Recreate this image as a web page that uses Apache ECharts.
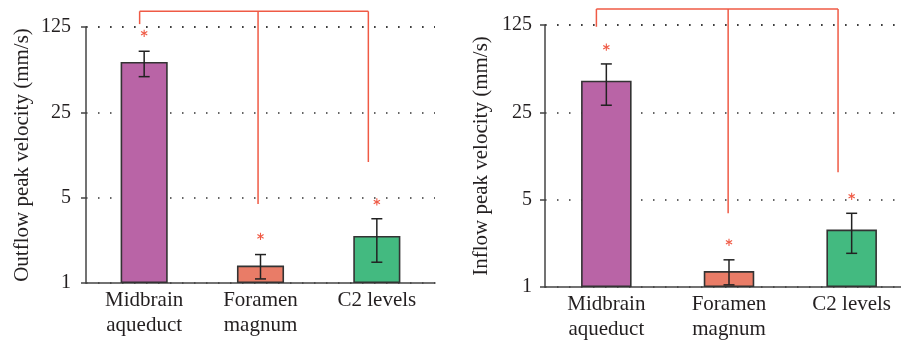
<!DOCTYPE html>
<html><head><meta charset="utf-8">
<script src="https://cdn.jsdelivr.net/npm/echarts@6/dist/echarts.min.js"></script>
<style>html,body{margin:0;padding:0;background:#fff}#c{width:901px;height:348px}</style>
</head><body><div id="c"></div>
<script>
const categories = ['Midbrain\naqueduct', 'Foramen\nmagnum', 'C2 levels'];
const yTicks = [1, 5, 25, 125];
const barColors = ['#b964a6', '#e97c67', '#43ba80'];

// Outflow panel (left)
const outflowMean = [64.6, 1.39, 2.43];
const outflowLow = [49.0, 1.08, 1.48];
const outflowHigh = [79.1, 1.71, 3.36];
const outflowStar = [111, 2.41, 4.61];
const outflowBracketTop = 168;
const outflowBracketEnd = [132, 4.44, 9.8];
const outflowBracketShift = [-0.039, -0.021, -0.073];

// Inflow panel (right)
const inflowMean = [44.8, 1.34, 2.88];
const inflowLow = [28.5, 1.04, 1.86];
const inflowHigh = [61.0, 1.65, 3.89];
const inflowStar = [83, 2.28, 5.32];
const inflowBracketTop = 168;
const inflowBracketEnd = [121, 3.89, 8.28];
const inflowBracketShift = [-0.081, -0.007, -0.111];

const FONT = '"Liberation Serif", "DejaVu Serif", serif';
const TXT = '#231f20';
const AX = '#444';
const RED = '#ef5a45';

function xAxis(gi) {
  return {
    type: 'category', gridIndex: gi, data: categories,
    axisTick: { show: false },
    axisLine: { show: true, lineStyle: { color: AX, width: 1.5 } },
    axisLabel: { interval: 0, fontFamily: FONT, fontSize: 21, color: TXT, lineHeight: 25, margin: 5 },
    splitLine: { show: false }
  };
}
function yAxis(gi, name, labelMargin) {
  return {
    type: 'log', logBase: 5, gridIndex: gi, min: yTicks[0], max: yTicks[yTicks.length - 1],
    axisLine: { show: true, lineStyle: { color: AX, width: 1.5 } },
    axisTick: { show: true, length: 5, lineStyle: { color: AX, width: 1.5 } },
    axisLabel: { fontFamily: FONT, fontSize: 20, color: TXT, margin: labelMargin,
      formatter: v => String(Math.round(v)) },
    splitLine: { show: true, lineStyle: { type: [1.5, 10.5], color: '#333', width: 1.5 } },
    name: name, nameLocation: 'middle', nameGap: 53,
    nameTextStyle: { fontFamily: FONT, fontSize: 21, color: TXT }
  };
}
function barSeries(gi, vals, w) {
  return {
    type: 'bar', xAxisIndex: gi, yAxisIndex: gi, barWidth: w, z: 2,
    data: vals.map((v, i) => ({ value: v, itemStyle: { color: barColors[i] } })),
    itemStyle: { borderColor: '#333', borderWidth: 1.6 }
  };
}
function errorSeries(gi, low, high) {
  return {
    type: 'custom', xAxisIndex: gi, yAxisIndex: gi, z: 5, silent: true,
    data: low.map((l, i) => [i, l, high[i]]),
    encode: { x: 0, y: [1, 2] },
    renderItem: (params, api) => {
      const x = api.value(0);
      const lo = api.coord([x, api.value(1)]);
      const hi = api.coord([x, api.value(2)]);
      const hw = 5.5;
      const st = { stroke: '#222', lineWidth: 1.5 };
      return { type: 'group', children: [
        { type: 'line', shape: { x1: lo[0], y1: lo[1], x2: hi[0], y2: hi[1] }, style: st },
        { type: 'line', shape: { x1: lo[0] - hw, y1: lo[1], x2: lo[0] + hw, y2: lo[1] }, style: st },
        { type: 'line', shape: { x1: hi[0] - hw, y1: hi[1], x2: hi[0] + hw, y2: hi[1] }, style: st }
      ] };
    }
  };
}
function starSeries(gi, stars) {
  return {
    type: 'custom', xAxisIndex: gi, yAxisIndex: gi, z: 6, silent: true,
    data: stars.map((v, i) => [i, v]),
    encode: { x: 0, y: 1 },
    renderItem: (params, api) => {
      const p = api.coord([api.value(0), api.value(1)]);
      const r = 3.6;
      const st = { stroke: RED, lineWidth: 1.1 };
      const ch = [];
      for (let k = 0; k < 3; k++) {
        const a = Math.PI / 2 + k * Math.PI / 3;
        ch.push({ type: 'line', shape: { x1: p[0] - r * Math.cos(a), y1: p[1] - r * Math.sin(a),
          x2: p[0] + r * Math.cos(a), y2: p[1] + r * Math.sin(a) }, style: st });
      }
      return { type: 'group', children: ch };
    }
  };
}
function bracketSeries(gi, top, ends, shifts) {
  return {
    type: 'custom', xAxisIndex: gi, yAxisIndex: gi, z: 7, silent: true, clip: false,
    data: ends.map((e, i) => [i, e, top]),
    encode: { x: 0, y: 1 },
    renderItem: (params, api) => {
      const i = api.value(0);
      const band = api.size([1, 0])[0];
      const b = api.coord([i, api.value(1)]);
      const t = api.coord([i, api.value(2)]);
      const x = b[0] + shifts[i] * band;
      const st = { stroke: RED, lineWidth: 1.5 };
      const ch = [{ type: 'line', shape: { x1: x, y1: t[1], x2: x, y2: b[1] }, style: st }];
      if (i === 0) {
        const last = ends.length - 1;
        const tl = api.coord([last, api.value(2)]);
        ch.push({ type: 'line', shape: { x1: x, y1: t[1], x2: tl[0] + shifts[last] * band, y2: t[1] }, style: st });
      }
      return { type: 'group', children: ch };
    }
  };
}

const chart = echarts.init(document.getElementById('c'), null, { renderer: 'canvas' });
chart.setOption({
  animation: false,
  backgroundColor: '#fff',
  grid: [
    { left: 86, top: 27, width: 349, height: 256, outerBoundsMode: 'none', containLabel: false },
    { left: 545, top: 25, width: 368, height: 262, outerBoundsMode: 'none', containLabel: false }
  ],
  xAxis: [xAxis(0), xAxis(1)],
  yAxis: [yAxis(0, 'Outflow peak velocity (mm/s)', 15), yAxis(1, 'Inflow peak velocity (mm/s)', 13)],
  series: [
    barSeries(0, outflowMean, '40.5%'),
    errorSeries(0, outflowLow, outflowHigh),
    starSeries(0, outflowStar),
    bracketSeries(0, outflowBracketTop, outflowBracketEnd, outflowBracketShift),
    barSeries(1, inflowMean, '41.2%'),
    errorSeries(1, inflowLow, inflowHigh),
    starSeries(1, inflowStar),
    bracketSeries(1, inflowBracketTop, inflowBracketEnd, inflowBracketShift)
  ]
});
</script></body></html>
